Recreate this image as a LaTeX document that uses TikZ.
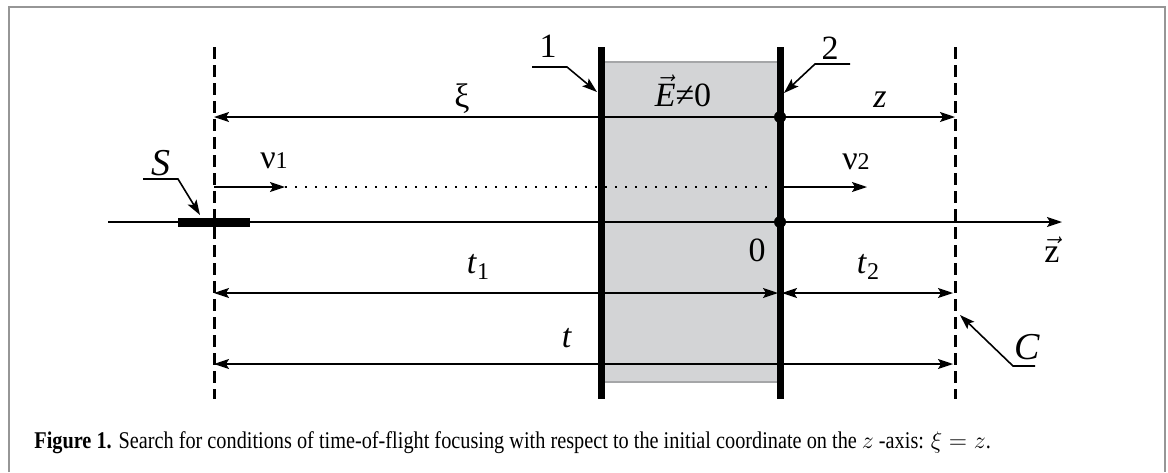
\documentclass[tikz,border=0pt]{standalone}
\usepackage{fontspec}
\setmainfont{Liberation Serif}
\newfontfamily\capfont[FakeStretch=0.845]{Liberation Serif}
\usetikzlibrary{
  arrows.meta,
  positioning
}
\definecolor{framegray}{RGB}{150,150,150}
\definecolor{fieldgray}{RGB}{211,212,214}
\definecolor{edgegray}{RGB}{165,166,168}

\tikzset{
  tip/.style={-{Stealth[length=7.5pt,width=5pt,inset=1.5pt]}},
  twotip/.style={{Stealth[length=7.5pt,width=5pt,inset=1.5pt]}-{Stealth[length=7.5pt,width=5pt,inset=1.5pt]}},
  thin line/.style={line width=0.8pt},
  screen/.style={line width=1.5pt, dash pattern=on 6pt off 3pt},
  plate/.style={line width=3.5pt},
  lbl/.style={inner sep=0pt, font=\fontsize{17}{19}\selectfont},
  dot/.style={circle, fill=black, inner sep=0pt, minimum size=6pt}
}

\begin{document}
\begin{tikzpicture}[x=0.5pt,y=-0.5pt]
  \useasboundingbox (0,0) rectangle (1168,472);

  % outer frame
  \draw[framegray, line width=1pt] (8.5,472) -- (8.5,6.5) -- (1165,6.5) -- (1165,472);

  % field region between the plates
  \fill[fieldgray] (601,62) rectangle (780,382);
  \draw[edgegray, line width=0.6pt] (601,62) -- (780,62);
  \draw[edgegray, line width=0.6pt] (601,382) -- (780,382);

  % source and collector planes
  \coordinate (srctop) at (214,47);
  \coordinate (srcbot) at (214,399);
  \coordinate (coltop) at (955,47);
  \coordinate (colbot) at (955,399);
  \draw[screen] (srctop) -- (srcbot);
  \draw[screen] (coltop) -- (colbot);

  % plates 1 and 2
  \coordinate (p1top) at (601,47);
  \coordinate (p1bot) at (601,399);
  \coordinate (p2top) at (780,47);
  \coordinate (p2bot) at (780,399);
  \draw[plate] (p1top) -- (p1bot);
  \draw[plate] (p2top) -- (p2bot);

  % z axis
  \coordinate (axstart) at (108,222);
  \coordinate (axend) at (1062,222);
  \draw[thin line, tip] (axstart) -- (axend);
  \coordinate (sleft) at (178,222);
  \coordinate (sright) at (250,222);
  \draw[line width=4.5pt] (sleft) -- (sright);
  \node[dot] (origin) at (780,222) {};

  % xi and z
  \node[dot] (ref) at (780,117) {};
  \coordinate (xiend) at (214,117);
  \coordinate (zend) at (955,117);
  \draw[thin line, tip] (ref) -- (xiend);
  \draw[thin line, tip] (ref) -- (zend);
  \node[lbl] (xilab) at (462,99) {ξ};
  \node[lbl] (zlab) at (880,100) {\textit{z}};

  % velocities
  \coordinate (vstart) at (214,187);
  \coordinate (vmid) at (285,187);
  \coordinate (vin) at (774,187);
  \coordinate (vout) at (782,187);
  \coordinate (vend) at (867,187);
  \draw[thin line, tip] (vstart) -- (vmid);
  \draw[line width=1pt, dash pattern=on 1.2pt off 3.8pt] (vmid) -- (vin);
  \draw[thin line, tip] (vout) -- (vend);
  \node[lbl] (v1lab) at (274,161) {ν{\fontsize{12}{13}\selectfont 1}};
  \node[lbl] (v2lab) at (856,162) {ν{\fontsize{12}{13}\selectfont 2}};

  % times of flight
  \coordinate (t1a) at (214,293);
  \coordinate (t1b) at (778,293);
  \coordinate (t2a) at (782,293);
  \coordinate (t2b) at (953,293);
  \coordinate (ta) at (214,364);
  \coordinate (tb) at (953,364);
  \draw[thin line, twotip] (t1a) -- (t1b);
  \draw[thin line, twotip] (t2a) -- (t2b);
  \draw[thin line, twotip] (ta) -- (tb);
  \node[lbl] (t1lab) at (478,267) {\textit{t}{\fontsize{12}{13}\selectfont\raisebox{-3pt}{1}}};
  \node[lbl] (t2lab) at (868,267) {\textit{t}{\fontsize{12}{13}\selectfont\raisebox{-3pt}{2}}};
  \node[lbl] (tlab) at (567,338) {\textit{t}};

  % other labels
  \node[lbl] (Elab) at (683,91) {$\vec{\mbox{\itshape E}}$≠0};
  \node[lbl] (zerolab) at (757,250) {0};
  \node[lbl] (axlab) at (1052,250) {$\vec{\mbox{z}}$};

  % leaders
  \node[lbl, font=\fontsize{19}{21}\selectfont] (Slab) at (161,163) {\textit{S}};
  \coordinate (sl1) at (143,179);
  \coordinate (sl2) at (178,179);
  \coordinate (sl3) at (200,215);
  \draw[thin line, tip] (sl1) -- (sl2) -- (sl3);

  \node[lbl] (onelab) at (548,46) {1};
  \coordinate (ol1) at (532,67);
  \coordinate (ol2) at (567,67);
  \coordinate (ol3) at (597,92);
  \draw[thin line, tip] (ol1) -- (ol2) -- (ol3);

  \node[lbl] (twolab) at (830,48) {2};
  \coordinate (tl1) at (850,64);
  \coordinate (tl2) at (815,64);
  \coordinate (tl3) at (784,93);
  \draw[thin line, tip] (tl1) -- (tl2) -- (tl3);

  \node[lbl, font=\fontsize{19}{21}\selectfont] (Clab) at (1027,347) {\textit{C}};
  \coordinate (cl1) at (1035,366);
  \coordinate (cl2) at (1013,366);
  \coordinate (cl3) at (960,315);
  \draw[thin line, tip] (cl1) -- (cl2) -- (cl3);

  % caption
  \node[anchor=base west, inner sep=0pt, font=\capfont\fontsize{12}{14}\selectfont] (caption) at (34,448)
    {\textbf{Figure 1.} Search for conditions of time-of-flight focusing with respect to the initial coordinate on the $z$ -axis: $\xi = z$.};

\end{tikzpicture}
\end{document}
